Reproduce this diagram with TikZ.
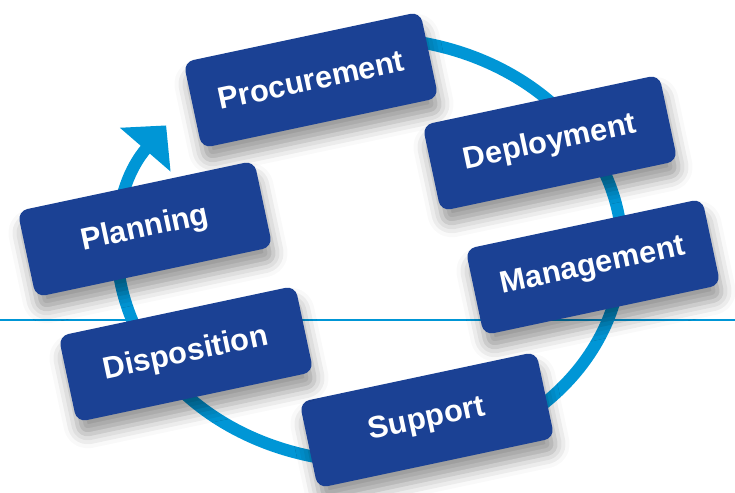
\documentclass[tikz,border=0pt]{standalone}
\usepackage{fontspec}
\setmainfont{Liberation Sans}
\usetikzlibrary{arrows.meta,shadows.blur}
\newlength{\du}
\setlength{\du}{0.02cm}
\definecolor{boxcolor}{rgb}{0.105882, 0.254902, 0.580392}
\definecolor{ringcolor}{rgb}{0.000000, 0.588235, 0.839216}
\tikzset{
  stagebox/.style={rectangle, rounded corners=10\du, fill=boxcolor, text=white,
    minimum width=242\du, minimum height=88\du, rotate=12,
    font=\fontsize{17.5}{20}\selectfont\bfseries,
    blur shadow={shadow xshift=3\du, shadow yshift=-14\du, shadow blur radius=14\du, shadow opacity=40}},
  ring/.style={line width=12\du, draw=ringcolor},
  hline/.style={line width=2\du, draw=ringcolor}
}

\begin{document}
\begin{tikzpicture}
\pgftransformxscale{1.000000}
\pgftransformyscale{-1.000000}
\useasboundingbox (0\du,0\du) rectangle (735\du,493\du);
% cycle ring, ends in the arrow at the top left
\coordinate (ringstart) at (263.5\du,57.9\du);
\draw[ring,-{Triangle[width=1.3cm,length=0.64cm]}] (ringstart)
  arc[start angle=-115, end angle=216, x radius=252\du, y radius=212\du];
\coordinate (lineleft) at (0\du,320\du);
\coordinate (lineright) at (735\du,320\du);
\draw[hline] (lineleft) -- (lineright);
% stages
\node[stagebox] (procurement) at (311\du,80\du){Procurement};
\node[stagebox] (deployment) at (550\du,143\du){Deployment};
\node[stagebox] (management) at (593\du,267\du){Management};
\node[stagebox] (support) at (427\du,420\du){Support};
\node[stagebox] (disposition) at (186\du,354\du){Disposition};
\node[stagebox] (planning) at (145\du,229\du){Planning};
\end{tikzpicture}
\end{document}
